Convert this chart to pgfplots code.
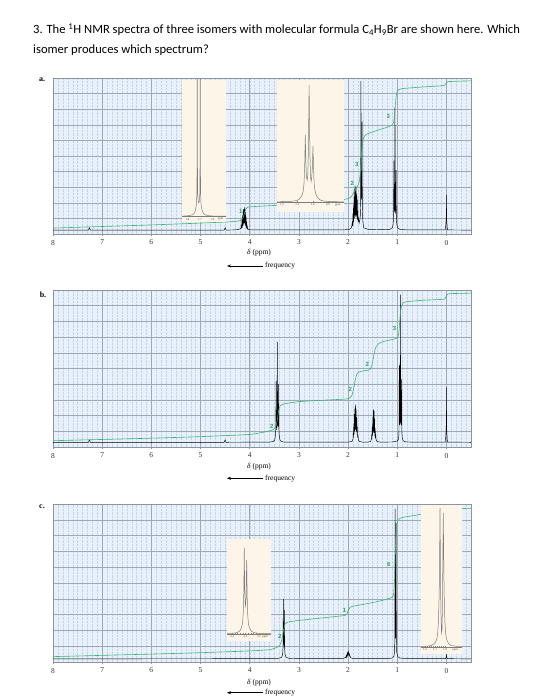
\documentclass[border=0pt]{standalone}
\usepackage{fontspec}
\setmainfont{Carlito}
\newfontfamily\serif{Liberation Serif}
\newfontfamily\sansb{Liberation Sans}
\usepackage{pgfplots}
\pgfplotsset{compat=1.18}
\usetikzlibrary{arrows.meta}
\definecolor{bgblue}{RGB}{232,241,251}
\definecolor{gridgray}{RGB}{160,168,178}
\definecolor{minorblue}{RGB}{196,212,232}
\definecolor{boxgray}{RGB}{140,148,156}
\definecolor{intgreen}{RGB}{60,179,113}
\definecolor{labgreen}{RGB}{40,160,95}
\definecolor{beige}{RGB}{253,246,232}
\definecolor{insetgray}{RGB}{125,125,125}
\pgfplotsset{
  nmr/.style={
    scale only axis, width=418pt,
    x dir=reverse, xmin=-0.5, xmax=8, ymin=0, ymax=100,
    xtick={0,1,...,8},
    minor xtick={-0.4,-0.3,...,7.95},
    ytick={10,20,...,90}, yticklabels={},
    grid=both,
    major grid style={draw=gridgray, line width=0.5pt},
    minor grid style={draw=minorblue, line width=0.3pt, dash pattern=on 0.6pt off 0.8pt},
    axis background/.style={fill=bgblue},
    axis line style={draw=boxgray, line width=0.9pt},
    tick pos=left, tick align=outside, major tick length=2.5pt, minor tick length=0pt,
    xtick style={draw=boxgray, line width=0.5pt},
    ytick style={draw=none},
    xticklabel style={font=\serif\fontsize{7.5}{8}\selectfont, text=black!80},
    /pgf/number format/assume math mode=true,
  },
  inset/.style={
    scale only axis, x dir=reverse,
    axis background/.style={fill=beige},
    axis x line=middle, axis y line=none,
    axis line style={-, draw=insetgray, line width=0.3pt},
    ytick=\empty,
    minor x tick num=4,
    major tick length=1.6pt, minor tick length=1pt,
    every tick/.style={draw=insetgray, line width=0.25pt},
    xticklabel style={font=\serif\fontsize{3}{3}\selectfont, text=black!70, inner sep=0.6pt,
      /pgf/number format/fixed, /pgf/number format/fixed zerofill, /pgf/number format/precision=1},
    /pgf/number format/assume math mode=true,
  },
  spec/.style={black, line width=0.45pt},
  integ/.style={intgreen, line width=0.6pt, smooth, tension=0.3},
  ipeak/.style={insetgray, line width=0.5pt},
}
\newcommand{\glab}{\sansb\bfseries\fontsize{6}{6}\selectfont}
\newcommand{\lab}{\serif\fontsize{7.5}{8}\selectfont}
\begin{document}
\begin{tikzpicture}[x=1pt,y=1pt]
\path[use as bounding box] (0,0) rectangle (550,700);
% title
\node[anchor=base west, font=\fontsize{12.6}{16}\selectfont, inner sep=0pt] at (33,666.5)
  {3. The \textsuperscript{1}H NMR spectra of three isomers with molecular formula C\textsubscript{4}H\textsubscript{9}Br are shown here. Which};
\node[anchor=base west, font=\fontsize{12.6}{16}\selectfont, inner sep=0pt] at (33,646.5)
  {isomer produces which spectrum?};

% ================= panel a =================
\node[font=\serif\bfseries\fontsize{8}{8}\selectfont] at (42,620.5) {a.};
\begin{axis}[nmr, height=156pt, at={(53pt,466pt)}, anchor=south west]
\addplot[spec] coordinates {(8,2.5)(7.28,2.5)(7.26,4)(7.24,2.5)(4.52,2.5)(4.5,4)(4.48,2.5)
(4.3,2.6)(4.22,3)(4.18,3.5)(4.17,6)(4.165,3.6)(4.158,9)(4.153,4)(4.146,12)(4.141,5)(4.134,15)(4.129,6)(4.122,16)(4.117,7)(4.11,17)(4.105,7)(4.098,16)(4.093,6)(4.086,14)(4.081,5)(4.074,11)(4.069,4)(4.062,8)(4.057,3.5)(4.05,5)(4.04,3)(3.98,2.6)
(2.1,2.6)(1.97,3)(1.93,4)(1.912,8)(1.908,5)(1.9,13)(1.896,6)(1.889,18)(1.885,8)(1.878,24)(1.873,10)(1.867,29)(1.862,12)(1.856,31)(1.851,12)(1.845,27)(1.84,11)(1.834,30)(1.829,12)(1.823,25)(1.818,10)(1.812,22)(1.807,9)(1.801,15)(1.796,8)(1.788,10)(1.775,7)(1.76,9)(1.75,12)(1.745,20)(1.738,98)(1.732,25)(1.724,22)(1.718,30)(1.714,72)(1.71,18)(1.70,8)(1.68,4)(1.6,3)(1.3,2.8)(1.15,3)(1.1,4)(1.085,6)(1.075,10)(1.068,47)(1.062,14)(1.052,16)(1.046,81)(1.04,16)(1.03,13)(1.024,41)(1.018,10)(1.008,6)(0.99,4)(0.95,3)(0.8,2.6)
(0.02,2.6)(0.004,10)(0,25)(-0.004,10)(-0.02,2.6)(-0.5,2.5)};
\addplot[integ] coordinates {(8,3.8)(7,4.8)(6,5.8)(5,7)(4.4,7.8)(4.2,8.5)(4.14,10)(4.11,13)(4.08,16)(4.04,17.2)(3.9,17.6)(3.5,18.3)(3,19.5)(2.5,20.8)(2.1,22)(1.97,23)(1.92,24.5)(1.88,27)(1.84,29.5)(1.80,31)(1.77,34)(1.75,40)(1.73,50)(1.71,57)(1.69,61)(1.66,63)(1.6,64.3)(1.4,66.5)(1.2,68.5)(1.1,70)(1.07,72)(1.05,78)(1.03,86)(1.01,90.5)(0.98,92.2)(0.9,93.2)(0.5,94.2)(0.1,95)(0.03,95.5)(0.0,96.8)(-0.03,97.6)(-0.1,97.8)(-0.5,98.2)};
\node[font=\glab, text=labgreen] at (axis cs:4.18,14.7) {1};
\node[font=\glab, text=labgreen] at (axis cs:1.915,32.5) {2};
\node[font=\glab, text=labgreen] at (axis cs:1.82,44.7) {3};
\node[font=\glab, text=labgreen] at (axis cs:1.18,75.2) {3};
\end{axis}
\node[font=\lab] at (259,447) {\textit{δ} (ppm)};
\draw[line width=0.5pt, -{Stealth[length=4pt,width=3pt]}] (263,434) -- (227,434);
\node[anchor=west, font=\lab, inner sep=1pt] at (264,434) {frequency};
% inset a1
\begin{axis}[inset, width=44pt, height=142pt, at={(182pt,478pt)}, anchor=south west,
  xmin=1.492, xmax=1.844, ymin=-4, ymax=100, xtick={1.6,1.7,1.8}]
\addplot[ipeak] coordinates {(1.844,0.3)(1.80,0.5)(1.78,0.8)(1.76,1.3)(1.75,2)(1.74,3.5)(1.735,5.5)(1.73,8)(1.727,11)(1.725,18)(1.723,40)(1.722,120)(1.7205,40)(1.718,16)(1.714,11)(1.71,10)(1.706,11)(1.702,16)(1.6995,40)(1.698,120)(1.697,40)(1.695,18)(1.693,11)(1.69,8)(1.685,5.5)(1.68,3.5)(1.67,2)(1.66,1.3)(1.64,0.8)(1.62,0.5)(1.58,0.3)(1.492,0.2)};
\node[font=\serif\fontsize{3}{3}\selectfont, text=black!70, inner sep=0.6pt, anchor=north] at (axis cs:1.535,-0.5) {ppm};
\end{axis}
% inset a2
\begin{axis}[inset, width=67pt, height=132pt, at={(277pt,488pt)}, anchor=south west,
  xmin=0.795, xmax=1.233, ymin=-8, ymax=100, xtick={0.9,1.0,1.1,1.2}]
\addplot[ipeak] coordinates {(1.233,0.3)(1.15,0.6)(1.12,1)(1.1,1.6)(1.09,2.3)(1.08,3.5)(1.07,5.5)(1.062,9)(1.056,16)(1.052,30)(1.048,55)(1.044,30)(1.04,20)(1.036,18)(1.032,22)(1.028,40)(1.023,96)(1.018,40)(1.014,22)(1.01,17)(1.006,20)(1.002,28)(0.998,46)(0.994,28)(0.99,15)(0.984,9)(0.976,5.5)(0.966,3.5)(0.956,2.3)(0.946,1.6)(0.93,1)(0.9,0.6)(0.85,0.4)(0.795,0.3)};
\node[font=\serif\fontsize{3}{3}\selectfont, text=black!70, inner sep=0.6pt, anchor=north] at (axis cs:0.835,-1) {ppm};
\end{axis}

% ================= panel b =================
\node[font=\serif\bfseries\fontsize{8}{8}\selectfont] at (43,405.5) {b.};
\begin{axis}[nmr, height=157pt, at={(53pt,253pt)}, anchor=south west]
\addplot[spec] coordinates {(8,3)(7.28,3)(7.26,4.5)(7.24,3)(4.52,3)(4.5,4.5)(4.48,3)
(3.6,3.1)(3.52,3.5)(3.49,4.5)(3.475,8)(3.468,12)(3.463,42)(3.458,14)(3.45,12)(3.444,14)(3.438,67)(3.432,16)(3.424,13)(3.418,15)(3.412,40)(3.406,11)(3.398,7)(3.385,4.5)(3.36,3.5)(3.3,3.1)
(2.0,3.1)(1.92,3.5)(1.9,5)(1.895,9)(1.89,6)(1.883,15)(1.878,8)(1.871,21)(1.866,10)(1.859,25)(1.854,11)(1.847,27)(1.842,11)(1.835,24)(1.83,10)(1.823,19)(1.818,8)(1.811,13)(1.806,6)(1.8,8)(1.79,4.5)(1.77,3.5)(1.7,3.1)
(1.6,3.1)(1.54,3.5)(1.525,5)(1.52,8)(1.515,5.5)(1.508,13)(1.503,7)(1.496,19)(1.491,9)(1.484,24)(1.479,10)(1.472,23)(1.467,9)(1.46,18)(1.455,7)(1.448,12)(1.443,5.5)(1.436,7)(1.43,4.5)(1.41,3.5)(1.35,3.1)
(1.1,3.2)(1.0,3.8)(0.975,5)(0.965,8)(0.958,52)(0.952,14)(0.942,16)(0.936,97)(0.93,17)(0.92,14)(0.914,43)(0.908,10)(0.898,6)(0.88,4)(0.84,3.3)(0.7,3.1)
(0.02,3.1)(0.004,12)(0,38)(-0.004,12)(-0.02,3.1)(-0.5,3)};
\addplot[integ] coordinates {(8,4)(7,4.8)(6,5.6)(5,6.6)(4,8)(3.6,10.2)(3.5,11.5)(3.46,14)(3.43,19)(3.41,23.5)(3.38,26.3)(3.3,27.5)(3.0,28.9)(2.5,29.8)(2.03,30.6)(1.96,31.5)(1.92,33)(1.88,38)(1.85,43)(1.82,46.5)(1.78,47.8)(1.7,48.4)(1.56,49.2)(1.52,51.5)(1.49,56)(1.46,61)(1.43,64)(1.39,65.5)(1.3,67)(1.1,68.5)(1.0,69.5)(0.97,72)(0.95,80)(0.93,87)(0.91,90.3)(0.88,91.8)(0.8,92.6)(0.5,93.4)(0.1,94)(0.03,94.4)(0,96.5)(-0.03,97.4)(-0.1,97.7)(-0.5,98)};
\node[font=\glab, text=labgreen] at (axis cs:3.55,12.9) {2};
\node[font=\glab, text=labgreen] at (axis cs:1.955,36.7) {2};
\node[font=\glab, text=labgreen] at (axis cs:1.61,52.7) {2};
\node[font=\glab, text=labgreen] at (axis cs:1.056,75.6) {3};
\end{axis}
\node[font=\lab] at (259,233) {\textit{δ} (ppm)};
\draw[line width=0.5pt, -{Stealth[length=4pt,width=3pt]}] (263,221.7) -- (227,221.7);
\node[anchor=west, font=\lab, inner sep=1pt] at (264,221.7) {frequency};

% ================= panel c =================
\node[font=\serif\bfseries\fontsize{8}{8}\selectfont] at (42,193.5) {c.};
\begin{axis}[nmr, height=158pt, at={(53pt,38pt)}, anchor=south west]
\addplot[spec] coordinates {(8,2)(3.5,2.1)(3.4,2.4)(3.35,3)(3.33,5)(3.322,9)(3.316,40)(3.31,12)(3.302,11)(3.296,33)(3.29,9)(3.28,4.5)(3.26,3)(3.2,2.3)(3.0,2.1)
(2.1,2.2)(2.06,2.8)(2.045,3.3)(2.04,2.9)(2.035,3.8)(2.03,3.3)(2.025,4.4)(2.02,3.8)(2.015,5.1)(2.01,4.4)(2.005,5.7)(2.0,5.0)(1.995,6.3)(1.99,5.2)(1.985,5.8)(1.98,4.6)(1.975,5.0)(1.97,4.0)(1.965,4.3)(1.96,3.4)(1.955,3.6)(1.95,3)(1.94,2.6)(1.9,2.2)
(1.2,2.1)(1.1,2.5)(1.07,3.5)(1.055,6)(1.048,15)(1.042,97)(1.036,16)(1.03,15)(1.024,88)(1.018,13)(1.01,6)(0.99,3.5)(0.95,2.5)(0.8,2.1)
(0.02,2.1)(0.005,3)(0,4.5)(-0.005,3)(-0.02,2.1)(-0.5,2)};
\addplot[integ] coordinates {(8,3.4)(7,4.2)(6,5)(5,5.9)(4,7)(3.59,7.8)(3.45,9.2)(3.38,11)(3.34,15)(3.31,20.5)(3.28,24)(3.22,25.3)(3.0,26.3)(2.5,28)(2.1,29.3)(2.03,30)(2.0,32.5)(1.96,34.5)(1.9,35.3)(1.6,37)(1.3,39)(1.1,41)(1.07,44)(1.055,52)(1.04,70)(1.02,84)(1.0,88.5)(0.96,90.5)(0.9,91.5)(0.6,93)(0.4,94.5)(0.2,95.5)(0.05,96)(0,96.7)(-0.5,97.3)};
\node[font=\glab, text=labgreen] at (axis cs:3.39,16) {2};
\node[font=\glab, text=labgreen] at (axis cs:2.07,32.9) {1};
\node[font=\glab, text=labgreen] at (axis cs:1.17,61.8) {6};
\end{axis}
\node[font=\lab] at (259,17) {\textit{δ} (ppm)};
\draw[line width=0.5pt, -{Stealth[length=4pt,width=3pt]}] (263,7.3) -- (227,7.3);
\node[anchor=west, font=\lab, inner sep=1pt] at (264,7.3) {frequency};
% inset c1
\begin{axis}[inset, width=44pt, height=102pt, at={(227pt,59pt)}, anchor=south west,
  xmin=3.111, xmax=3.437, ymin=-7, ymax=95, xtick={3.2,3.3,3.4}]
\addplot[ipeak] coordinates {(3.437,0.3)(3.40,0.6)(3.37,1.2)(3.35,2.2)(3.34,3.5)(3.33,6)(3.322,11)(3.316,22)(3.312,45)(3.309,86)(3.306,45)(3.302,30)(3.299,28)(3.296,35)(3.293,60)(3.291,74)(3.288,40)(3.284,20)(3.278,10)(3.27,6)(3.26,3.5)(3.25,2.2)(3.23,1.2)(3.2,0.6)(3.111,0.3)};
\node[font=\serif\fontsize{3}{3}\selectfont, text=black!70, inner sep=0.6pt, anchor=north] at (axis cs:3.156,-1) {ppm};
\end{axis}
% inset c2
\begin{axis}[inset, width=41pt, height=149pt, at={(421pt,46pt)}, anchor=south west,
  xmin=0.83, xmax=1.24, ymin=-7, ymax=142, xtick={1.0,1.1,1.2}]
\addplot[ipeak] coordinates {(1.24,0.4)(1.18,0.8)(1.14,1.5)(1.12,2.5)(1.10,4)(1.09,6)(1.08,9)(1.072,15)(1.065,28)(1.058,55)(1.053,100)(1.05,139)(1.047,100)(1.042,40)(1.036,16)(1.033,14)(1.03,17)(1.025,45)(1.02,105)(1.017,134)(1.014,100)(1.009,55)(1.002,28)(0.995,15)(0.987,9)(0.977,6)(0.967,4)(0.955,2.5)(0.94,1.5)(0.9,0.8)(0.83,0.4)};
\node[font=\serif\fontsize{3}{3}\selectfont, text=black!70, inner sep=0.6pt, anchor=north] at (axis cs:0.9,-1) {ppm};
\end{axis}
\end{tikzpicture}
\end{document}
